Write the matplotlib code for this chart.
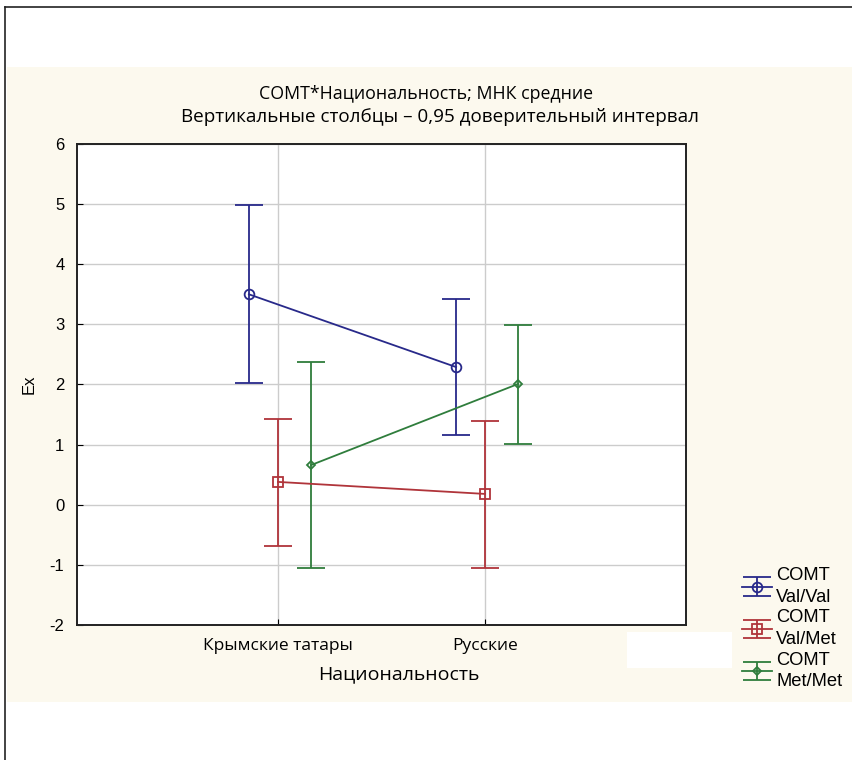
import numpy as np
import matplotlib.pyplot as plt
from matplotlib.patches import Rectangle
from matplotlib.lines import Line2D

plt.rcParams['font.family'] = ['Liberation Sans', 'DejaVu Sans']
plt.rcParams['axes.unicode_minus'] = False

groups = ['Крымские татары', 'Русские']
series = ['COMT\nVal/Val', 'COMT\nVal/Met', 'COMT\nMet/Met']
means = [[3.50, 2.29], [0.38, 0.18], [0.66, 2.01]]
upper = [[4.99, 3.42], [1.43, 1.40], [2.38, 2.99]]
lower = [[2.02, 1.16], [-0.69, -1.05], [-1.05, 1.01]]

colors = ['#28298a', '#b0343a', '#2f7d3c']
markers = ['o', 's', 'D']
msizes = [7, 7, 4.5]
offsets = [-0.14, 0.0, 0.16]
humanist = ['Open Sans', 'DejaVu Sans']

W, H = 852, 760
fig = plt.figure(figsize=(W / 100, H / 100), dpi=100)
fig.patch.set_facecolor('white')

# cream panel and page border
fig.patches.append(Rectangle((7 / W, 1 - 702 / H), 845 / W, 635 / H,
                             transform=fig.transFigure, facecolor='#fcf9ee',
                             edgecolor='none', zorder=-2))
fig.add_artist(Line2D([5 / W, 5 / W], [0, 1 - 7 / H], color='#222222', lw=1.2,
                      transform=fig.transFigure, zorder=-1))
fig.add_artist(Line2D([5 / W, 1], [1 - 7 / H, 1 - 7 / H], color='#222222', lw=1.2,
                      transform=fig.transFigure, zorder=-1))
fig.patches.append(Rectangle((627 / W, 1 - 668 / H), 105 / W, 36 / H,
                             transform=fig.transFigure, facecolor='white',
                             edgecolor='none', zorder=-1))

ax = fig.add_axes([77 / W, 1 - 625 / H, 609 / W, 481 / H], zorder=2)
ax.set_facecolor('white')
x = np.arange(1, len(groups) + 1)

handles = []
for i in range(len(series)):
    m = np.array(means[i])
    lo = m - np.array(lower[i])
    hi = np.array(upper[i]) - m
    xs = x + offsets[i]
    eb = ax.errorbar(xs, m, yerr=[lo, hi], color=colors[i], lw=1.3,
                     capsize=10, capthick=1.3, marker=markers[i], ms=msizes[i],
                     mfc='none', mec=colors[i], mew=1.3, zorder=3)
    handles.append(eb)

ax.set_xlim(0.03, 2.97)
ax.set_ylim(-2, 6)
ax.set_xticks(x)
ax.set_xticklabels(groups, family=humanist, fontsize=12.5)
ax.set_yticks(range(-2, 7))
ax.tick_params(axis='y', labelsize=12, length=4, pad=9, direction='in')
ax.tick_params(axis='x', length=4, pad=9, direction='in')
ax.grid(True, color='#cccccc', lw=1)
ax.set_axisbelow(True)
for s in ax.spines.values():
    s.set_linewidth(1.4)
    s.set_color('#222222')

ax.set_xlabel('Национальность', family=humanist, fontsize=14)
ax.xaxis.set_label_coords(322 / 609, -40 / 481)
ax.set_ylabel('Ex', fontsize=12)
ax.yaxis.set_label_coords(-40 / 609, 0.5)

fig.text(0.5, 1 - 94 / H, 'COMT*Национальность; МНК средние',
         ha='center', va='center', fontsize=12.8, family=humanist)
fig.text(440 / W, 1 - 117 / H, 'Вертикальные столбцы – 0,95 доверительный интервал',
         ha='center', va='center', fontsize=13.6, family=humanist)

leg = fig.legend(handles, series, loc='upper left', bbox_to_anchor=(733 / W, 1 - 558 / H),
                 frameon=False, fontsize=13.2, handlelength=1.6, handletextpad=0.25,
                 labelspacing=0.2, borderpad=0)
for t in leg.get_texts():
    t.set_linespacing(1.35)

fig.savefig('out.png', dpi=100)
